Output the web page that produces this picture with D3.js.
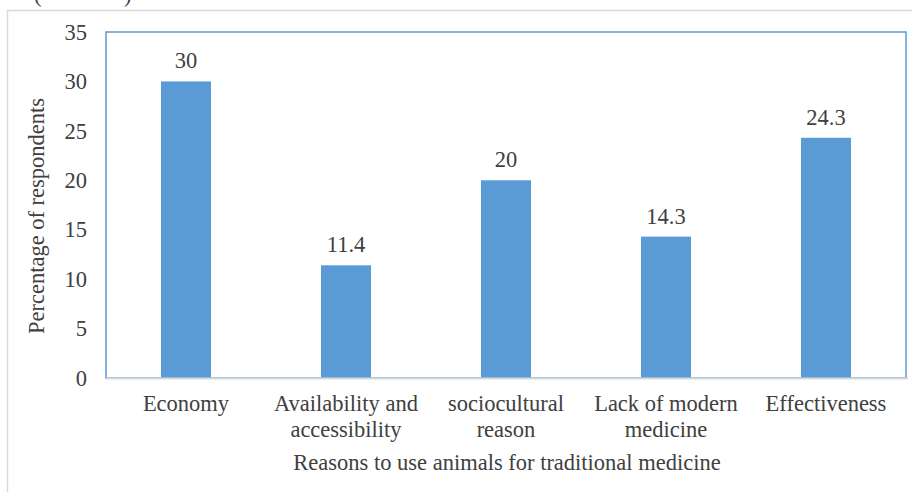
<!DOCTYPE html>
<html>
<head>
<meta charset="utf-8">
<script src="https://cdn.jsdelivr.net/npm/d3@7"></script>
<style>
  html, body { margin: 0; padding: 0; background: #fff; }
  svg { display: block; }
</style>
</head>
<body>
<svg id="chart" width="912" height="492"></svg>
<script>
// Reasons for using animals in traditional medicine (% of respondents)
const categories = [
  ["Economy"],
  ["Availability and", "accessibility"],
  ["sociocultural", "reason"],
  ["Lack of modern", "medicine"],
  ["Effectiveness"]
];
const values = [30, 11.4, 20, 14.3, 24.3];
const valueLabels = ["30", "11.4", "20", "14.3", "24.3"];
const yTicks = [0, 5, 10, 15, 20, 25, 30, 35];
const yTitle = "Percentage of respondents";
const xTitle = "Reasons to use animals for traditional medicine";

const FONT = "'Liberation Serif', 'Times New Roman', Tinos, 'DejaVu Serif', serif";
const FS = 22.5;
const INK = "#404040";

const svg = d3.select("#chart")
  .attr("font-family", FONT);
const m = { left: 106, right: 906, top: 32, bottom: 378 };

// Outer frame of the figure
svg.append("path")
  .attr("d", `M7.5,492 V10.5 H912`)
  .attr("fill", "none").attr("stroke", "#d9d9d9").attr("stroke-width", 1.5);

// Cropped caption line above the frame
svg.append("text").attr("x", 34).attr("y", 2).attr("font-size", FS)
  .attr("font-family", FONT).attr("fill", INK).text("(");
svg.append("text").attr("x", 124).attr("y", 2).attr("font-size", FS)
  .attr("font-family", FONT).attr("fill", INK).text(")");

const x = d3.scaleBand()
  .domain(d3.range(categories.length))
  .range([m.left, m.right])
  .padding(0);
const barW = x.bandwidth() * 0.3125;

const y = d3.scaleLinear().domain([0, 35]).range([m.bottom, m.top]);

// Plot area border
svg.append("rect")
  .attr("x", m.left).attr("y", m.top)
  .attr("width", m.right - m.left).attr("height", m.bottom - m.top)
  .attr("fill", "none").attr("stroke", "#5b9bd5").attr("stroke-width", 1.5);

// Bars
svg.append("g").selectAll("rect")
  .data(values)
  .join("rect")
  .attr("x", (d, i) => x(i) + (x.bandwidth() - barW) / 2)
  .attr("y", d => y(d))
  .attr("width", barW)
  .attr("height", d => y(0) - y(d))
  .attr("fill", "#5b9bd5");

// Category axis baseline
svg.append("line")
  .attr("x1", m.left).attr("x2", m.right + 2)
  .attr("y1", y(0) + 0.5).attr("y2", y(0) + 0.5)
  .attr("stroke", "#d9d9d9").attr("stroke-width", 2);

// Value axis
const yAxis = d3.axisLeft(y).tickValues(yTicks).tickSize(0).tickPadding(19);
const gy = svg.append("g").attr("transform", `translate(${m.left},0)`).call(yAxis)
  .attr("font-family", FONT).attr("font-size", FS);
gy.select(".domain").remove();
gy.selectAll("text").attr("fill", INK);

// Data labels
svg.append("g").selectAll("text")
  .data(values)
  .join("text")
  .attr("x", (d, i) => x(i) + x.bandwidth() / 2)
  .attr("y", d => y(d) - 13)
  .attr("text-anchor", "middle")
  .attr("font-family", FONT)
  .attr("font-size", FS)
  .attr("fill", INK)
  .text((d, i) => valueLabels[i]);

// Category labels
const cat = svg.append("g").selectAll("text")
  .data(categories)
  .join("text")
  .attr("x", (d, i) => x(i) + x.bandwidth() / 2)
  .attr("y", 411)
  .attr("text-anchor", "middle")
  .attr("font-family", FONT)
  .attr("font-size", FS)
  .attr("fill", INK);
cat.selectAll("tspan")
  .data(d => d)
  .join("tspan")
  .attr("x", function () { return this.parentNode.getAttribute("x"); })
  .attr("dy", (d, i) => i === 0 ? 0 : 26)
  .text(d => d);

// Axis titles
svg.append("text")
  .attr("x", (m.left + m.right) / 2 + 1)
  .attr("y", 470)
  .attr("text-anchor", "middle")
  .attr("font-family", FONT)
  .attr("font-size", FS)
  .attr("fill", INK)
  .text(xTitle);

svg.append("text")
  .attr("transform", `translate(44,216) rotate(-90)`)
  .attr("text-anchor", "middle")
  .attr("font-family", FONT)
  .attr("font-size", FS)
  .attr("fill", INK)
  .text(yTitle);
</script>
</body>
</html>
